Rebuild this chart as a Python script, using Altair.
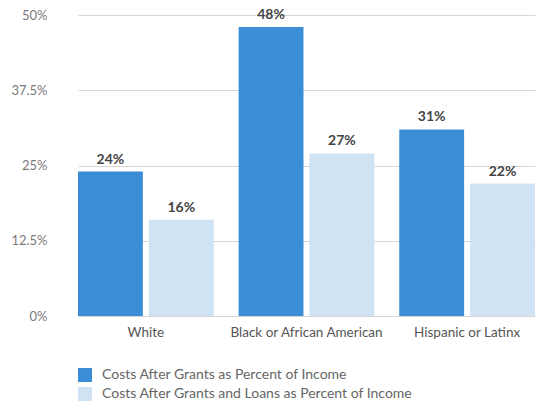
import altair as alt
import pandas as pd

categories = ["White", "Black or African American", "Hispanic or Latinx"]
series = ["Costs After Grants as Percent of Income",
          "Costs After Grants and Loans as Percent of Income"]
after_grants = [24, 48, 31]
after_loans = [16, 27, 22]
y_ticks = [0, 12.5, 25, 37.5, 50]

rows = []
for c, a, b in zip(categories, after_grants, after_loans):
    rows.append({"cat": c, "series": series[0], "value": a, "label": f"{a}%"})
    rows.append({"cat": c, "series": series[1], "value": b, "label": f"{b}%"})
df = pd.DataFrame(rows)

FONT = "Lato"
colors = ["#3b8ed5", "#cfe3f5"]

x = alt.X("cat:N", sort=categories, title=None,
          scale=alt.Scale(range=[13, 470], paddingInner=0.155, paddingOuter=0),
          axis=alt.Axis(labelAngle=0, labelFontSize=13.5, labelColor="#555555",
                        labelFont=FONT, ticks=False, domain=False, grid=False,
                        labelPadding=9))
xoff = alt.XOffset("series:N", sort=series,
                   scale=alt.Scale(paddingInner=0.085, paddingOuter=0))
y = alt.Y("value:Q", title=None,
          scale=alt.Scale(domain=[0, 50], nice=False),
          axis=alt.Axis(values=y_ticks, labelExpr="datum.value + '%'",
                        labelFontSize=13, labelColor="#7a7a7a", labelFont=FONT,
                        ticks=False, domain=False, labelPadding=18,
                        gridColor="#d6d6d6", gridWidth=1))

bars = alt.Chart(df).mark_bar().encode(
    x=x, xOffset=xoff, y=y,
    color=alt.Color("series:N", sort=series,
                    scale=alt.Scale(domain=series, range=colors),
                    legend=alt.Legend(title=None, orient="none", legendX=13, legendY=353,
                                      symbolType="square", symbolSize=196,
                                      symbolStrokeWidth=0, labelFontSize=14,
                                      labelColor="#666666", labelFont=FONT,
                                      labelLimit=0, rowPadding=5, labelOffset=10)),
)

labels = alt.Chart(df).mark_text(baseline="bottom", dy=-5, fontSize=14,
                                 fontWeight="bold", color="#444444", font=FONT).encode(
    x=alt.X("cat:N", sort=categories),
    xOffset=alt.XOffset("series:N", sort=series),
    y=alt.Y("value:Q"), text="label:N")

chart = alt.layer(bars, labels).properties(
    width=472, height=301,
    background="white",
    autosize=alt.AutoSizeParams(type="none"),
    padding={"left": 65, "top": 15, "right": 0, "bottom": 92},
).configure_view(strokeWidth=0, stroke="transparent").configure_axis(
    domain=False, ticks=False
)

chart.save("out.html", embed_options={"renderer": "svg", "actions": False})
